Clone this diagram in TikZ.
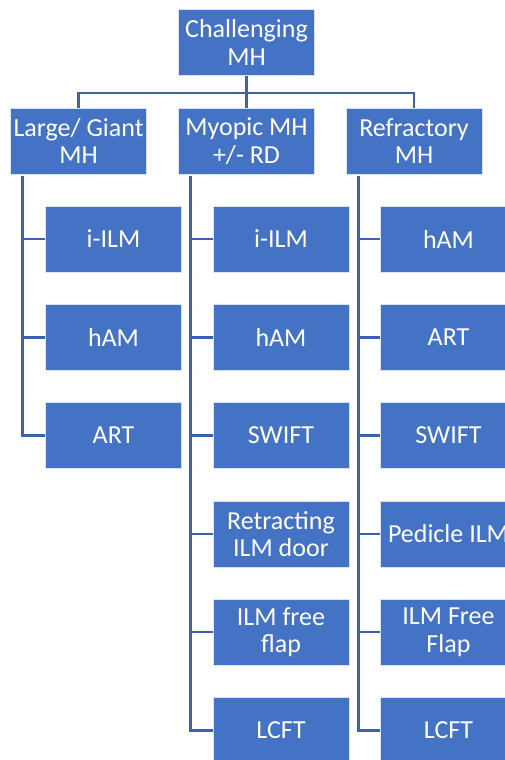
\documentclass[tikz,border=0pt]{standalone}
\usepackage{fontspec}
\setmainfont{Carlito}
\usetikzlibrary{calc}
\definecolor{boxblue}{HTML}{4472C4}
\definecolor{linkblue}{HTML}{3A62AE}
\begin{document}
\begin{tikzpicture}[x=1pt,y=-1pt,
  box/.style={fill=boxblue,draw=white!80!boxblue,line width=0.8pt,minimum width=136pt,minimum height=66pt,
    inner sep=0pt,text=white,align=center,font=\fontsize{26}{27.6}\selectfont},
  link/.style={draw=linkblue,line width=2.8pt}]
\useasboundingbox (0,0) rectangle (505,760);
\clip (0,0) rectangle (505,760);
\node[box] (root) at (246.5,42.5) {Challenging\\MH};
\node[box] (a) at (78.5,141) {Large/ Giant\\MH};
\node[box] (b) at (246.5,141) {Myopic MH\\+/- RD};
\node[box] (c) at (414,141) {Refractory\\MH};
% children
\node[box] (a1) at (113.5,239) {i-ILM};
\node[box] (a2) at (113.5,337.3) {hAM};
\node[box] (a3) at (113.5,435.6) {ART};
\node[box] (b1) at (281,239) {i-ILM};
\node[box] (b2) at (281,337.3) {hAM};
\node[box] (b3) at (281,435.6) {SWIFT};
\node[box] (b4) at (281,534) {Retracting\\ILM door};
\node[box] (b5) at (281,632) {ILM free\\flap};
\node[box] (b6) at (281,730.3) {LCFT};
\node[box] (c1) at (448.5,239) {hAM};
\node[box] (c2) at (448.5,337.3) {ART};
\node[box] (c3) at (448.5,435.6) {SWIFT};
\node[box] (c4) at (448.5,534) {Pedicle ILM};
\node[box] (c5) at (448.5,632) {ILM Free\\Flap};
\node[box] (c6) at (448.5,730.3) {LCFT};
% top connectors
\coordinate (hub) at ($(root.south)+(0,17)$);
\draw[link] (root.south) -- (hub);
\draw[link] (a.north) |- (hub) -| (c.north);
\draw[link] (hub) -- (b.north);
% column connectors
\foreach \p/\n in {a/3,b/6,c/6}{
  \coordinate (\p0) at ($(\p.south west)+(12.5,1.5)$);
  \foreach \k in {1,...,\n}{
    \draw[link] (\p0) |- (\p\k.west);
  }
}
\end{tikzpicture}
\end{document}
